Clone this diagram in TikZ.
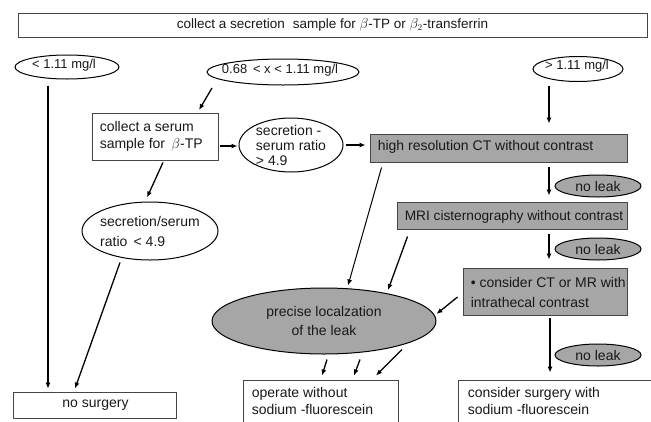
\documentclass[tikz,border=0pt]{standalone}
\usepackage{fontspec}
\setmainfont{Liberation Sans}
\usetikzlibrary{shapes.geometric,arrows.meta,calc}
\definecolor{boxgray}{RGB}{166,166,166}
\definecolor{edgegray}{RGB}{70,70,70}
\definecolor{ink}{RGB}{25,25,25}

\begin{document}
\begin{tikzpicture}[x=1pt,y=-1pt,
  font=\fontsize{14}{17}\selectfont,
  plainbox/.style={draw=edgegray, line width=0.9pt, fill=white, rectangle,
    inner sep=0pt, text=ink},
  graybox/.style={plainbox, fill=boxgray},
  oval/.style={draw=black, line width=1pt, ellipse, inner sep=0pt, fill=white},
  grayoval/.style={oval, fill=boxgray},
  lbl/.style={text=ink, inner sep=0pt},
  boxtext/.style={lbl, anchor=west, align=left, xshift=8pt},
  toptext/.style={lbl, anchor=north west, align=left, xshift=9pt, yshift=-8pt},
  smallfont/.style={font=\fontsize{13}{16}\selectfont},
  arr/.style={line width=1.3pt, draw=black, -{Latex[length=6pt,width=5pt]}},
  thinarr/.style={arr, line width=1pt}]

\useasboundingbox (0,0) rectangle (651,421);
\clip (0,0) rectangle (651,421);
\fill[white] (0,0) rectangle (651,421);

% header
\node[plainbox, minimum width=629pt, minimum height=24pt,
  label={[lbl, font=\fontsize{13.5}{16}\selectfont]center:{collect a secretion\hspace{8pt}sample for $\beta$-TP or $\beta_2$-transferrin}}]
  (top) at (332.5,25) {};

% concentration ranges
\node[oval, minimum width=104pt, minimum height=24pt,
  label={[lbl, smallfont, xshift=-3pt, yshift=2pt]center:{< 1.11 mg/l}}] (A) at (67,67) {};
\node[oval, minimum width=152pt, minimum height=26pt,
  label={[lbl, smallfont, xshift=-3pt, yshift=2pt]center:{0.68 \,< x < 1.11 mg/l}}] (B) at (283,72) {};
\node[oval, minimum width=90pt, minimum height=25pt,
  label={[lbl, smallfont, xshift=-1pt, yshift=2.5pt]center:{> 1.11 mg/l}}] (C) at (578,69) {};

% serum branch
\node[plainbox, minimum width=126pt, minimum height=47pt,
  label={[boxtext, yshift=0pt]west:{collect a serum\\sample for \,$\beta$-TP}}]
  (serum) at (155,136.5) {};
\node[oval, minimum width=104pt, minimum height=54pt,
  label={[lbl, align=left, font=\fontsize{14}{15}\selectfont]center:{secretion -\\serum ratio\\> 4.9}}]
  (D) at (291,145) {};
\node[oval, minimum width=136pt, minimum height=58pt,
  label={[lbl, align=left, font=\fontsize{14}{20}\selectfont]center:{secretion/serum\\ratio \,< 4.9}}]
  (E) at (150,231) {};

% imaging cascade
\node[graybox, minimum width=257pt, minimum height=28pt,
  label={[boxtext, yshift=1pt]west:{high resolution CT without contrast}}]
  (CT) at (498.5,148) {};
\node[graybox, minimum width=230pt, minimum height=27pt,
  label={[boxtext, font=\fontsize{13.7}{17}\selectfont, yshift=-1pt]west:{MRI cisternography without contrast}}]
  (MRI) at (512,215.5) {};
\node[graybox, minimum width=164pt, minimum height=47pt,
  label={[boxtext, font=\fontsize{14}{20}\selectfont, yshift=-1pt]west:{\textbullet\ consider CT or MR with\\intrathecal contrast}}]
  (cons) at (545,291.5) {};

\node[grayoval, minimum width=86pt, minimum height=22pt,
  label={[lbl]center:no leak}] (nl1) at (598,186) {};
\node[grayoval, minimum width=86pt, minimum height=22pt,
  label={[lbl]center:no leak}] (nl2) at (598,249) {};
\node[grayoval, minimum width=86pt, minimum height=22pt,
  label={[lbl]center:no leak}] (nl3) at (598,355) {};

\node[grayoval, minimum width=224pt, minimum height=66pt,
  label={[lbl, align=center, font=\fontsize{14}{19}\selectfont]center:{precise localzation\\of the leak}}]
  (prec) at (324,321) {};

% outcomes
\node[plainbox, minimum width=163pt, minimum height=26pt,
  label={[lbl, xshift=1pt]center:no surgery}]
  (nosurg) at (94.5,405) {};
\node[plainbox, minimum width=155pt, minimum height=55pt,
  label={[toptext, font=\fontsize{14}{16.5}\selectfont]north west:{operate without\\sodium -fluorescein}}]
  (oper) at (320.5,407.5) {};
\node[plainbox, minimum width=202pt, minimum height=55pt,
  label={[toptext, xshift=1pt, font=\fontsize{14}{17}\selectfont]north west:{consider surgery with\\sodium -fluorescein}}]
  (surg) at (559,407.5) {};

% connectors
\draw[arr] ($(B.center)+(-71,16)$) -- ($(serum.center)+(44,-26.5)$);
\draw[arr] ($(serum.east)+(2,9.5)$) -- ($(D.west)+(-1,1)$);
\draw[arr] ($(D.east)+(2,0)$) -- ($(CT.west)+(-4,-3)$);
\draw[arr] ($(C.south)+(-29,3.5)$) -- ($(CT.north)+(50.5,-10)$);
\draw[arr] ($(CT.south)+(50.5,5)$) -- ($(MRI.north)+(37,-6)$);
\draw[arr] ($(MRI.south)+(37,5)$) -- ($(cons.north)+(4,-8)$);
\draw[arr] ($(cons.south)+(5,3)$) -- ($(surg.north)+(-9,-7)$);
\draw[arr] ($(A.south)+(-19,6)$) -- ($(nosurg.north)+(-46.5,-3)$);
\draw[arr] ($(serum.south)+(8,2)$) -- ($(E.north)+(-3,-4)$);
\draw[arr] ($(E.south)+(-30,2)$) -- ($(nosurg.north)+(-19.5,-3)$);
\draw[thinarr] ($(CT.south west)+(12,5)$) -- ($(prec.north)+(24,-2)$);
\draw[arr] ($(MRI.south west)+(11,7)$) -- ($(prec.center)+(64,-31)$);
\draw[arr] ($(cons.west)+(-5,5.5)$) -- ($(prec.east)+(0,-7)$);
\draw[arr] ($(prec.south)+(3,5)$) -- ($(oper.north)+(1.5,-4)$);
\draw[arr] ($(prec.south)+(36,5)$) -- ($(oper.north)+(33.5,-4)$);
\draw[arr] ($(prec.south)+(78,-5)$) -- ($(oper.north)+(55.5,-4)$);

\end{tikzpicture}
\end{document}
